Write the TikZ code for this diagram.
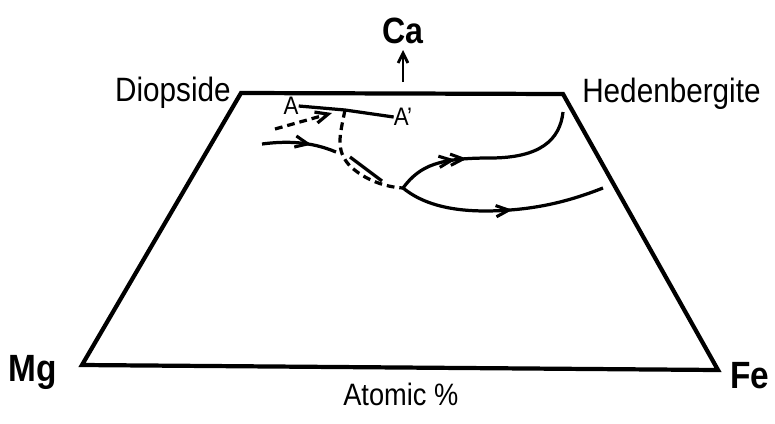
\documentclass[tikz,border=0pt]{standalone}
\usepackage{fontspec}
\setmainfont{Liberation Sans}[FakeStretch=0.88]
\usepackage{tikz}
\usetikzlibrary{arrows.meta, positioning, decorations.markings}

\tikzset{
  frame/.style={line width=3pt, line join=miter},
  trend/.style={line width=2.3pt},
  trenddash/.style={line width=2.3pt, dash pattern=on 5.5pt off 3.5pt},
  lbl/.style={inner sep=0pt, font=\fontsize{24}{28}\selectfont},
  corner/.style={inner sep=0pt, font=\fontsize{27}{30}\selectfont\bfseries},
  midarrow/.style={postaction={decorate}, decoration={markings,
      mark=at position #1 with {\arrow{Straight Barb[length=9pt,width=8pt,line width=2.2pt]}}}},
  dblarrow/.style={postaction={decorate}, decoration={markings,
      mark=at position #1 with {\arrow{Straight Barb[length=9pt,width=8pt,line width=2.2pt]}},
      mark=at position #1+0.06 with {\arrow{Straight Barb[length=9pt,width=8pt,line width=2.2pt]}}}}
}

\begin{document}
\begin{tikzpicture}[x=0.025cm, y=-0.025cm]
  \useasboundingbox (0,0) rectangle (775,423);

  \coordinate (di) at (241,93);
  \coordinate (he) at (563,94);
  \coordinate (fe) at (718,370);
  \coordinate (mg) at (82,365);
  \draw[frame] (di) -- (he) -- (fe) -- (mg) -- cycle;

  \node[lbl, anchor=base east] (diopside) at (231,101) {Diopside};
  \node[lbl, anchor=base west] (hedenbergite) at (582,102) {Hedenbergite};
  \node[corner, anchor=base west] (mglabel) at (8,381) {Mg};
  \node[corner, anchor=base west] (felabel) at (730,388) {Fe};
  \node[corner, font=\fontsize{26}{30}\selectfont\bfseries, anchor=base] (calabel) at (403,43) {Ca};
  \node[lbl, font=\fontsize{22}{26}\selectfont, anchor=base west] (atomic) at (343,405) {Atomic \%};

  \coordinate (catail) at (403,82);
  \coordinate (catip) at (403,50);
  \draw[line width=2pt, -{Straight Barb[length=7pt,width=7pt]}] (catail) -- (catip);

  \node[lbl, font=\fontsize{18}{20}\selectfont] (a) at (291,106) {A};
  \node[lbl, font=\fontsize{18}{20}\selectfont] (a2) at (403,117) {A'};
  \coordinate (tie) at (345,110);
  \draw[trend] (a.east) -- (tie) -- (a2.west);

  \coordinate (dstart) at (275,129);
  \coordinate (dend) at (332,113);
  \draw[trenddash, -{Straight Barb[length=9pt,width=8pt]}] (dstart) -- (dend);

  \coordinate (bp) at (403,188);
  \coordinate (kink) at (350,166);
  \draw[trenddash] (tie) .. controls (340,135) and (335,150) .. (kink)
    .. controls (365,180) and (385,187) .. (bp);

  \coordinate (s1) at (262,144);
  \coordinate (s2) at (336,152);
  \draw[trend, midarrow=0.66] (s1) .. controls (285,141) and (310,141) .. (s2);

  \coordinate (t1) at (350,157);
  \coordinate (t2) at (382,181);
  \draw[trend] (t1) -- (t2);

  \coordinate (upend) at (563,112);
  \draw[trend, dblarrow=0.32] (bp) .. controls (420,165) and (440,158) .. (490,158)
    .. controls (540,158) and (560,140) .. (upend);

  \coordinate (lowend) at (603,188);
  \draw[trend, midarrow=0.55] (bp) .. controls (430,210) and (470,213) .. (510,210)
    .. controls (550,207) and (580,197) .. (lowend);
\end{tikzpicture}
\end{document}
